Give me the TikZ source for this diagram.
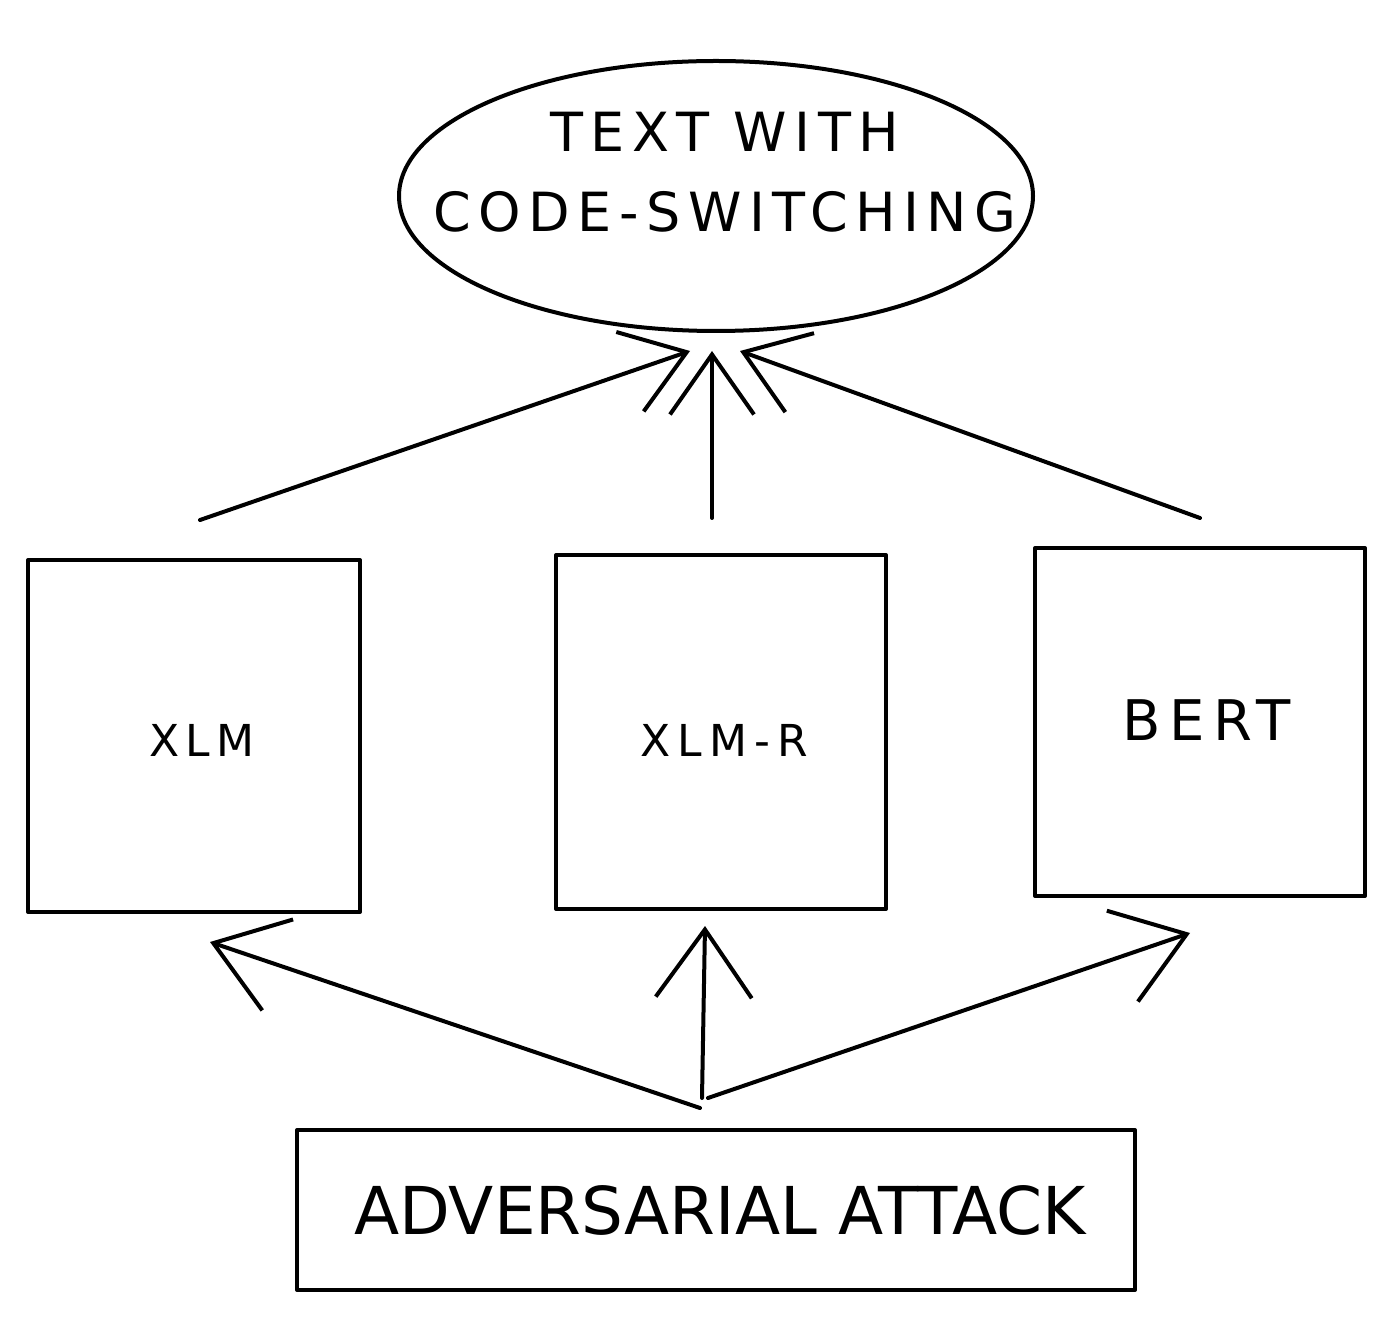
\documentclass[tikz,border=0pt]{standalone}
\usepackage{fontspec}
\setmainfont{DejaVu Sans}
\usetikzlibrary{shapes.geometric,arrows.meta,calc}
\tikzset{
  sketch/.style={draw=black, line width=2pt, line join=round, line cap=round},
  box/.style={sketch, rectangle, inner sep=0pt},
  lbl/.style={align=center, inner sep=0pt},
  arr/.style={line width=2pt, line cap=round, -{Straight Barb[length=30pt,width=42pt,line width=2pt]}},
  arrb/.style={line width=2pt, line cap=round, -{Straight Barb[length=34pt,width=48pt,line width=2pt]}}
}
\begin{document}
\begin{tikzpicture}[x=0.5pt,y=-0.5pt]
\useasboundingbox (0,0) rectangle (1393,1320);
% ellipse
\node[sketch, ellipse, minimum width=317pt, minimum height=135pt] (ell) at (716,196) {};
\node[lbl, font=\fontsize{27}{40}\selectfont\addfontfeatures{LetterSpace=14}] (elltext) at (725,172) {TEXT WITH\\CODE-SWITCHING};
% boxes
\node[box, minimum width=166pt, minimum height=176pt] (xlm) at (194,736) {};
\node[lbl, font=\fontsize{22}{26}\selectfont\addfontfeatures{LetterSpace=15}] (xlmt) at (202,740) {XLM};
\node[box, minimum width=165pt, minimum height=177pt] (xlmr) at (721,732) {};
\node[lbl, font=\fontsize{22}{26}\selectfont\addfontfeatures{LetterSpace=16}] (xlmrt) at (724,740) {XLM-R};
\node[box, minimum width=165pt, minimum height=174pt] (bert) at (1200,722) {};
\node[lbl, font=\fontsize{28}{32}\selectfont\addfontfeatures{LetterSpace=15}] (bertt) at (1207,720) {BERT};
\node[box, minimum width=419pt, minimum height=80pt] (adv) at (716,1210) {};
\node[lbl, font=\fontsize{33}{38}\selectfont] (advt) at (720,1210) {ADVERSARIAL ATTACK};
% top arrows
\draw[arr] ([shift={(6,-38)}]xlm.north) -- ([shift={(-26,18)}]ell.south);
\draw[arr] ([shift={(-9,-35)}]xlmr.north) -- ([shift={(-4,18)}]ell.south);
\draw[arr] ([shift={(0,-28)}]bert.north) -- ([shift={(24,18)}]ell.south);
% bottom arrows
\draw[arrb] ([shift={(-16,-20)}]adv.north) -- ([shift={(16,28)}]xlm.south);
\draw[arrb] ([shift={(-14,-30)}]adv.north) -- ([shift={(-16,15)}]xlmr.south);
\draw[arrb] ([shift={(-8,-30)}]adv.north) -- ([shift={(-10,35)}]bert.south);
\end{tikzpicture}
\end{document}
